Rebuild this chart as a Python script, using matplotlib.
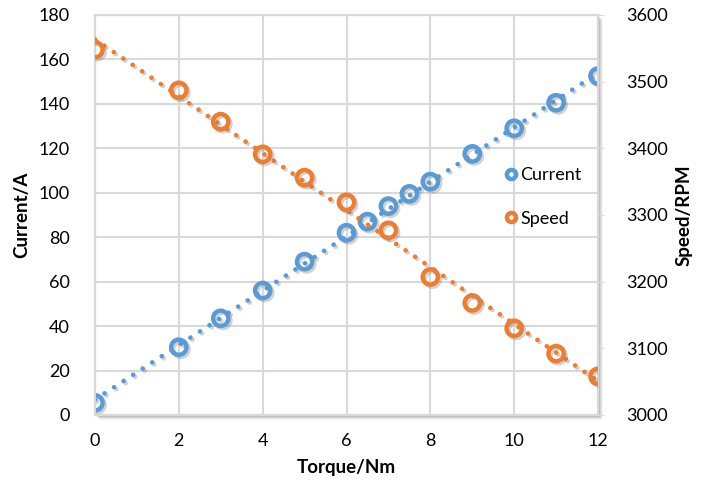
import numpy as np
import matplotlib
matplotlib.use("Agg")
import matplotlib.pyplot as plt
import matplotlib.patheffects as pe
from matplotlib.patches import Rectangle

plt.rcParams['font.family'] = ['Lato', 'DejaVu Sans']

# data
torque_current = [0, 2, 3, 4, 5, 6, 6.5, 7, 7.5, 8, 9, 10, 11, 12]
current = [5.5, 30.5, 43.5, 56, 69, 82, 87, 94, 99.5, 105, 117.5, 129, 140.5, 152.5]
torque_speed = [0, 2, 3, 4, 5, 6, 7, 8, 9, 10, 11, 12]
speed = [3548, 3487, 3440, 3391, 3356, 3319, 3277, 3207, 3168, 3130, 3092, 3058]

x_ticks = [0, 2, 4, 6, 8, 10, 12]
left_ticks = list(range(0, 181, 20))
right_ticks = list(range(3000, 3601, 100))

BLUE = '#5B9BD5'
ORANGE = '#ED7D31'
GRID = '#d9d9d9'

fig = plt.figure(figsize=(7.02, 4.83), dpi=100)
ax = fig.add_axes([0.1353, 0.1408, 0.7166, 0.8282])
ax2 = ax.twinx()

# fake soft shadow behind plot area (right / bottom)
for i, a in enumerate([0.08, 0.12, 0.18, 0.25]):
    off = (5 - i) / 702
    r = Rectangle((0.1353 + off, 0.1408 - off * 702 / 483), 0.7166, 0.8282,
                  transform=fig.transFigure, facecolor='#808080', alpha=a,
                  edgecolor='none', zorder=-10)
    fig.patches.append(r)
ax.set_zorder(1)
ax2.set_zorder(2)
ax.set_facecolor('white')
ax2.patch.set_visible(False)

shadow_line = [pe.SimpleLineShadow(offset=(1.5, -1.5), shadow_color='gray', alpha=0.35), pe.Normal()]

# trend lines (linear, Excel-style)
xs = np.array([0, 12])
pc = np.polyfit(torque_current, current, 1)
ps = np.polyfit(torque_speed, speed, 1)
ax.plot(xs, np.polyval(pc, xs), color=BLUE, lw=3.4, linestyle=(0, (0.01, 2.4)),
        dash_capstyle='round', path_effects=shadow_line, zorder=3)
ax2.plot(xs, np.polyval(ps, xs), color=ORANGE, lw=3.4, linestyle=(0, (0.01, 2.4)),
         dash_capstyle='round', path_effects=shadow_line, zorder=3)

ax.plot(torque_current, current, 'o', ms=11, mfc='none', mec=BLUE, mew=3.2,
        path_effects=shadow_line, zorder=4, label='Current')
ax2.plot(torque_speed, speed, 'o', ms=11, mfc='none', mec=ORANGE, mew=3.2,
         path_effects=shadow_line, zorder=4, label='Speed')

ax.set_xlim(0, 12)
ax.set_ylim(0, 180)
ax2.set_ylim(3000, 3600)
ax.set_xticks(x_ticks)
ax.set_yticks(left_ticks)
ax2.set_yticks(right_ticks)

ax.grid(True, color=GRID, lw=1.5)
ax.set_axisbelow(True)
for a in (ax, ax2):
    for s in a.spines.values():
        s.set_color(GRID)
        s.set_linewidth(1.5)
ax.tick_params(axis='both', length=0, labelsize=13, pad=13, colors='black')
ax.tick_params(axis='y', pad=18)
ax2.tick_params(axis='y', length=4, color=GRID, labelsize=13, pad=16)

ax.set_xlabel('Torque/Nm', fontsize=13.5, fontweight='bold', labelpad=7)
ax.set_ylabel('Current/A', fontsize=13.5, fontweight='bold', labelpad=6)
ax2.set_ylabel('Speed/RPM', fontsize=13.5, fontweight='bold', labelpad=6)

h1, l1 = ax.get_legend_handles_labels()
h2, l2 = ax2.get_legend_handles_labels()
leg = ax2.legend(h1 + h2, l1 + l2, loc='center left', bbox_to_anchor=(0.785, 0.545),
                 frameon=False, fontsize=13, markerscale=0.6, handlelength=0.5,
                 handletextpad=0.3, labelspacing=1.5)
for h in leg.legend_handles:
    h.set_path_effects([])

fig.savefig('out.png', dpi=100)
